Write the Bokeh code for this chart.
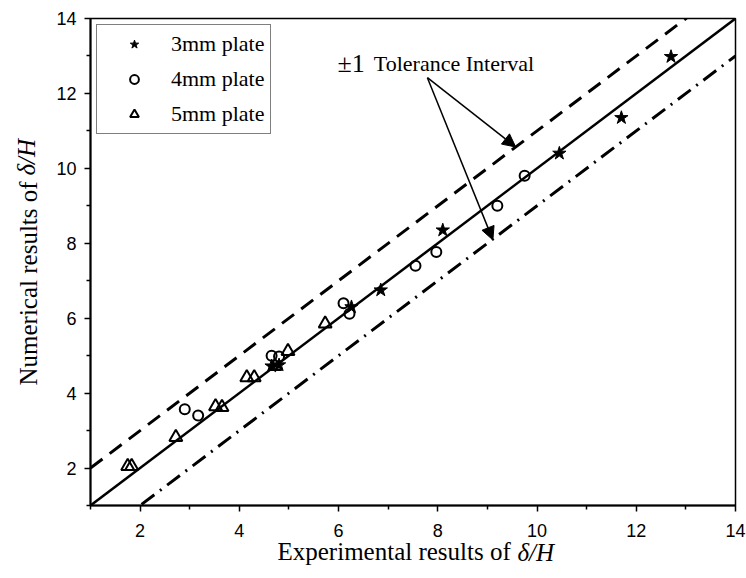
from bokeh.plotting import figure
from bokeh.models import (FixedTicker, Legend, LegendItem, Arrow, NormalHead,
                          Label, Range1d, Title)
from bokeh.embed import file_html
from bokeh.resources import INLINE

# ---- data ----
star_x = [4.65, 4.8, 6.26, 6.85, 8.1, 10.45, 11.7, 12.7]
star_y = [4.72, 4.75, 6.3, 6.75, 8.35, 10.4, 11.35, 12.98]

circle_x = [2.9, 3.17, 4.65, 4.8, 6.1, 6.22, 7.55, 7.97, 9.2, 9.75]
circle_y = [3.57, 3.4, 5.0, 4.98, 6.4, 6.12, 7.4, 7.77, 9.0, 9.8]

tri_x = [1.75, 1.83, 2.72, 3.52, 3.65, 4.15, 4.3, 4.72, 4.98, 5.73]
tri_y = [2.05, 2.05, 2.82, 3.64, 3.62, 4.42, 4.42, 4.72, 5.12, 5.85]

line_x = [1, 14]
tolerance = 1

x_ticks = [2, 4, 6, 8, 10, 12, 14]
x_minor = [1, 3, 5, 7, 9, 11, 13]
y_ticks = [2, 4, 6, 8, 10, 12, 14]
y_minor = [1, 3, 5, 7, 9, 11, 13]

SERIF = "Liberation Serif"
SANS = "Liberation Sans"

p = figure(width=746, height=575, x_range=Range1d(1, 14), y_range=Range1d(1, 14),
           output_backend="svg", toolbar_location=None,
           min_border_left=88, min_border_right=11, min_border_top=18,
           min_border_bottom=70)
p.xgrid.visible = False
p.ygrid.visible = False
p.outline_line_color = "black"
p.outline_line_width = 1.5
p.background_fill_color = "white"
p.border_fill_alpha = 0

p.xaxis.ticker = FixedTicker(ticks=x_ticks, minor_ticks=x_minor)
p.yaxis.ticker = FixedTicker(ticks=y_ticks, minor_ticks=y_minor)
for ax in (p.xaxis, p.yaxis):
    ax.axis_line_width = 2
    ax.axis_line_color = "black"
    ax.major_tick_line_width = 1.5
    ax.major_tick_line_color = "black"
    ax.major_tick_out = 6
    ax.major_tick_in = 0
    ax.minor_tick_line_width = 1.5
    ax.minor_tick_line_color = "black"
    ax.minor_tick_out = 4
    ax.minor_tick_in = 0
    ax.major_label_text_font = SANS
    ax.major_label_text_font_size = "18px"
    ax.major_label_text_color = "black"
p.xaxis.major_label_standoff = 12
p.yaxis.major_label_standoff = 8

# reference lines
line_y = list(line_x)
upper_y = [v + tolerance for v in line_x]
lower_y = [v - tolerance for v in line_x]
p.line(line_x, line_y, line_color="black", line_width=2.5)
p.line(line_x, upper_y, line_color="black", line_width=3, line_dash="15 9")
p.line(line_x, lower_y, line_color="black", line_width=3, line_dash="16 7 2 7")

# data
r_star = p.scatter(star_x, star_y, marker="star", size=14, fill_color="black",
                   line_color="black", line_width=1)
r_circ = p.scatter(circle_x, circle_y, marker="circle", size=10, fill_color=None,
                   line_color="black", line_width=2)
r_tri = p.scatter(tri_x, tri_y, marker="triangle", size=13, fill_color=None,
                  line_color="black", line_width=2)

legend = Legend(items=[LegendItem(label="3mm plate", renderers=[r_star]),
                       LegendItem(label="4mm plate", renderers=[r_circ]),
                       LegendItem(label="5mm plate", renderers=[r_tri])],
                location="top_left", margin=6, padding=6, spacing=9,
                glyph_width=62, glyph_height=22, label_height=22,
                label_standoff=6, label_text_font=SERIF,
                label_text_font_size="22px", label_text_color="black",
                border_line_color="black", border_line_width=1,
                background_fill_color="white", background_fill_alpha=1)
p.add_layout(legend)

# annotation
p.add_layout(Label(x=5.98, y=12.8, text="\u00b11", text_font=SERIF,
                   text_font_size="26px", text_baseline="alphabetic",
                   text_color="black"))
p.add_layout(Label(x=6.71, y=12.8, text="Tolerance Interval", text_font=SERIF,
                   text_font_size="22px", text_baseline="alphabetic",
                   text_color="black"))
p.add_layout(Arrow(end=NormalHead(size=13, fill_color="black", line_color="black"),
                   x_start=7.79, y_start=12.42, x_end=9.57, y_end=10.57,
                   line_width=1.5, line_color="black"))
p.add_layout(Arrow(end=NormalHead(size=13, fill_color="black", line_color="black"),
                   x_start=7.79, y_start=12.42, x_end=9.11, y_end=8.09,
                   line_width=1.5, line_color="black"))

# axis titles (mixed roman/italic) as side-panel titles
p.add_layout(Title(text="Experimental results of ", align="left", offset=187,
                   standoff=-4, vertical_align="top", text_font=SERIF,
                   text_font_size="25px", text_font_style="normal",
                   text_color="black"), "below")
p.add_layout(Title(text="\u03b4/H", align="left", offset=427,
                   standoff=-51, vertical_align="top", text_font=SERIF,
                   text_font_size="25px", text_font_style="italic",
                   text_color="black"), "below")
p.add_layout(Title(text="Numerical results of ", align="left", offset=120,
                   standoff=24, text_font=SERIF, text_font_size="25px",
                   text_font_style="normal", text_color="black"), "left")
p.add_layout(Title(text="\u03b4/H", align="left", offset=330,
                   standoff=-79, text_font=SERIF, text_font_size="25px",
                   text_font_style="italic", text_color="black"), "left")

open("out.html", "w").write(file_html(p, INLINE))
